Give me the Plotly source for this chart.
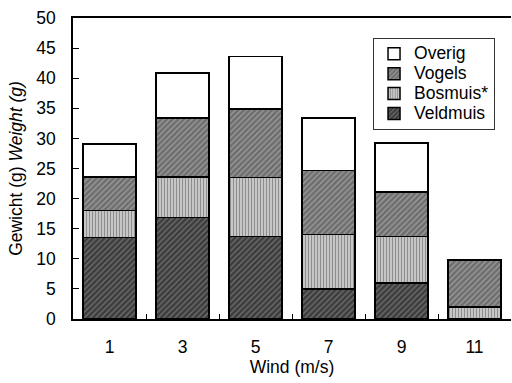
import plotly.graph_objects as go

categories = ["1", "3", "5", "7", "9", "11"]
veldmuis = [13.5, 16.9, 13.7, 5.0, 6.0, 0.0]
bosmuis = [4.5, 6.7, 9.8, 9.0, 7.7, 2.0]
vogels = [5.6, 9.8, 11.4, 10.7, 7.4, 7.8]
overig = [5.5, 7.5, 8.7, 8.7, 8.1, 0.0]

series = [
    ("Veldmuis", veldmuis, dict(shape="/", fgcolor="#a0a0a0", bgcolor="#3c3c3c", size=4, solidity=0.35)),
    ("Bosmuis*", bosmuis, dict(shape="|", fgcolor="#444444", bgcolor="#d8d8d8", size=3, solidity=0.5)),
    ("Vogels", vogels, dict(shape="/", fgcolor="#d0d0d0", bgcolor="#6e6e6e", size=4, solidity=0.3)),
    ("Overig", overig, None),
]

fs = 17.5
fig = go.Figure()
for name, vals, pat in series:
    marker = dict(color="white", line=dict(color="black", width=1.5))
    if pat is not None:
        marker["pattern"] = pat
        marker["color"] = pat["bgcolor"]
    fig.add_trace(go.Bar(
        x=categories, y=vals,
        name=f'<span style="font-size:{fs}px">{name}</span>',
        marker=marker, width=0.73,
    ))

font = "Liberation Sans, Arial, sans-serif"
fig.update_layout(
    barmode="stack",
    width=512, height=383,
    margin=dict(l=73, r=1, t=18, b=64),
    paper_bgcolor="white", plot_bgcolor="white",
    font=dict(family=font, size=fs, color="black"),
    showlegend=True,
    legend=dict(
        traceorder="reversed",
        x=0.685, y=0.934, xanchor="left", yanchor="top",
        bordercolor="#333333", borderwidth=1,
        bgcolor="white",
        font=dict(size=13, family=font),
        itemwidth=30,
        tracegroupgap=0,
    ),
    xaxis=dict(
        type="category",
        title=dict(text="Wind (m/s)", font=dict(size=fs), standoff=4),
        showline=True, linecolor="black", linewidth=1.5, mirror=True,
        ticks="inside", tickson="boundaries", ticklen=5, tickcolor="black",
        ticklabelstandoff=11,
        showgrid=False, range=[-0.5, 5.5],
        tickfont=dict(size=fs),
    ),
    yaxis=dict(
        title=dict(text="Gewicht (g) <i>Weight (g)</i>", font=dict(size=fs), standoff=9),
        range=[0, 50], dtick=5, tick0=0,
        showline=True, linecolor="black", linewidth=1.5,
        ticks="inside", ticklen=6, tickcolor="black",
        ticklabelstandoff=12,
        showgrid=False, zeroline=False,
        tickfont=dict(size=fs),
    ),
)

fig.write_html("out.html")
